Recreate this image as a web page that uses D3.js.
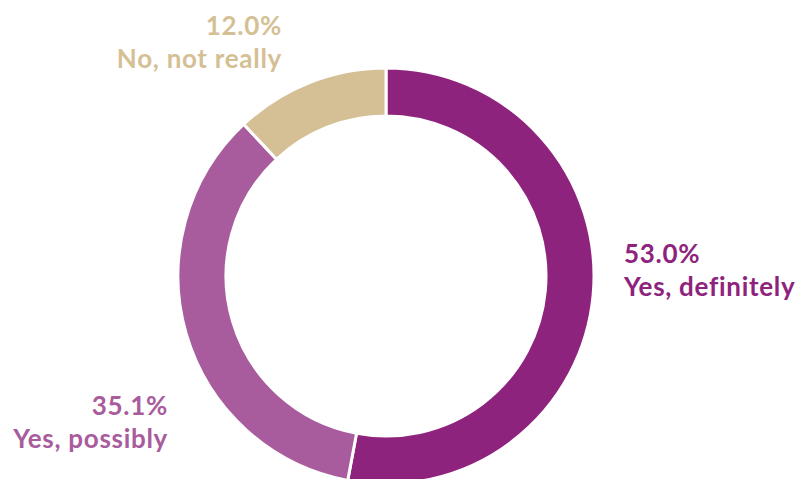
<!DOCTYPE html>
<html><head><meta charset="utf-8">
<script src="https://cdn.jsdelivr.net/npm/d3@7"></script>
<style>body{margin:0;background:#fff}svg{display:block}</style>
</head><body>
<svg id="c" width="805" height="479"></svg>
<script>
const categories = ["Yes, definitely", "Yes, possibly", "No, not really"];
const values = [53.0, 35.1, 12.0];
const colors = ["#8E237D", "#A95C9D", "#D5BF95"];

const svg = d3.select("#c");
const cx = 386, cy = 276, outerR = 208, innerR = 160;
const g = svg.append("g").attr("transform", `translate(${cx},${cy})`);
const pie = d3.pie().sort(null).value(d => d.v);
const data = categories.map((c, i) => ({c, v: values[i], col: colors[i]}));
const arcs = pie(data);
const arc = d3.arc().innerRadius(innerR).outerRadius(outerR);
g.selectAll("path").data(arcs).join("path")
  .attr("d", arc).attr("fill", d => d.data.col)
  .attr("stroke", "#fff").attr("stroke-width", 3);

// labels
const labelPos = [
  {x: 624, y: 263, anchor: "start"},
  {x: 168, y: 415, anchor: "end"},
  {x: 282, y: 35, anchor: "end"}
];
const fmt = d3.format(".1f");
data.forEach((d, i) => {
  const p = labelPos[i];
  const t = svg.append("text").attr("x", p.x).attr("y", p.y)
    .attr("text-anchor", p.anchor).attr("fill", d.col)
    .style("font-family", "Lato, 'Open Sans', sans-serif")
    .style("font-weight", "bold").style("font-size", "26px")
    .style("letter-spacing", "0.7px");
  t.append("tspan").attr("x", p.x).text(fmt(d.v) + "%");
  t.append("tspan").attr("x", p.x).attr("dy", 33).text(d.c);
});
</script>
</body></html>
